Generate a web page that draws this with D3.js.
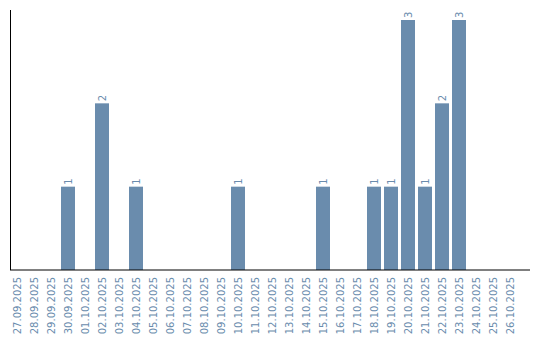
<!DOCTYPE html>
<html><head><meta charset="utf-8">
<script src="https://cdn.jsdelivr.net/npm/d3@7"></script>
<style>body{margin:0;background:#fff}svg{display:block}</style>
</head><body><svg id="c" width="540" height="340"></svg>
<script>
const dates = ["27.09.2025","28.09.2025","29.09.2025","30.09.2025","01.10.2025","02.10.2025","03.10.2025","04.10.2025","05.10.2025","06.10.2025","07.10.2025","08.10.2025","09.10.2025","10.10.2025","11.10.2025","12.10.2025","13.10.2025","14.10.2025","15.10.2025","16.10.2025","17.10.2025","18.10.2025","19.10.2025","20.10.2025","21.10.2025","22.10.2025","23.10.2025","24.10.2025","25.10.2025","26.10.2025"];
const counts = [0,0,0,1,0,2,0,1,0,0,0,0,0,1,0,0,0,0,1,0,0,1,1,3,1,2,3,0,0,0];
const color = "#6a8cad";
const svg = d3.select("#c");
const x = d3.scaleBand().domain(dates).range([8.5, 518.5]).paddingInner(3/17).paddingOuter(1.5/17);
const y = d3.scaleLinear().domain([0, 3.12]).range([270, 10]);
const data = dates.map((d,i)=>({d, v:counts[i]}));
svg.selectAll("rect.bar").data(data.filter(e=>e.v>0)).enter().append("rect")
  .attr("class","bar").attr("x",e=>x(e.d)).attr("width",x.bandwidth())
  .attr("y",e=>y(e.v)).attr("height",e=>y(0)-y(e.v)).attr("fill",color);
svg.selectAll("text.val").data(data.filter(e=>e.v>0)).enter().append("text")
  .attr("class","val")
  .attr("transform",e=>`translate(${x(e.d)+x.bandwidth()/2+3.5},${y(e.v)-2}) rotate(-90)`)
  .attr("font-family","DejaVu Sans").attr("font-size","10px").attr("fill",color)
  .text(e=>e.v);
// x axis
const gx = svg.append("g").attr("transform","translate(0,270)");
gx.append("line").attr("x1",10).attr("x2",530).attr("stroke","#000");
gx.selectAll("text").data(dates).enter().append("text")
  .attr("transform",d=>`translate(${x(d)+x.bandwidth()/2+3.5},7) rotate(-90)`)
  .attr("text-anchor","end").attr("font-family","DejaVu Sans").attr("font-size","10px")
  .attr("fill",color).text(d=>d);
// y axis
svg.append("line").attr("x1",10.5).attr("x2",10.5).attr("y1",10).attr("y2",270).attr("stroke","#000");
</script></body></html>
